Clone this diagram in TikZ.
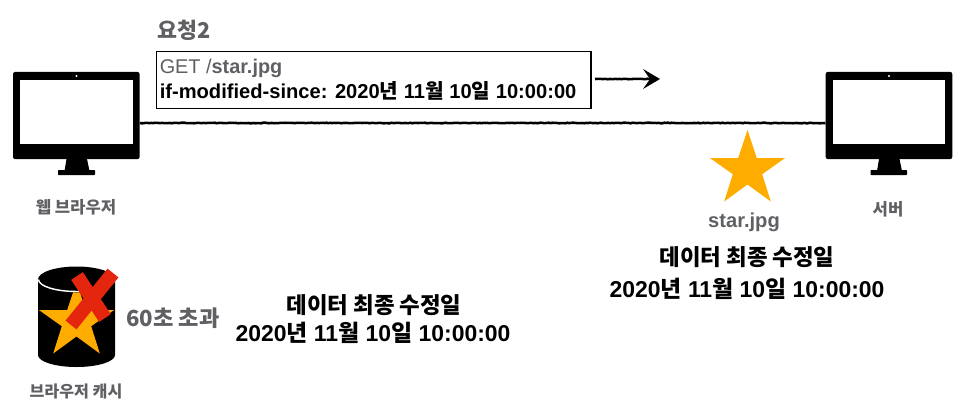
\documentclass[tikz,border=0pt]{standalone}
\usepackage{fontspec}
\setmainfont{Liberation Sans}
\newfontfamily\cjk{Noto Sans CJK KR}
\usetikzlibrary{arrows.meta,decorations.pathmorphing}
\definecolor{greytxt}{HTML}{5F6064}
\definecolor{staror}{HTML}{FFAC00}
\definecolor{redx}{HTML}{E5260F}
\tikzset{
  x=0.75pt,y=-0.75pt,
  screenbody/.style={draw=none,fill=black,rounded corners=1.5pt,minimum width=94.9pt,minimum height=65.3pt,inner sep=0pt},
  screenglass/.style={draw=none,fill=white,minimum width=84.7pt,minimum height=48pt,inner sep=0pt},
  label/.style={inner sep=0pt,text=greytxt,font=\bfseries},
  rough/.style={line width=1.9pt,black,decorate,decoration={random steps,segment length=1.4pt,amplitude=0.22pt}},
  xstroke/.style={redx,line width=10.5pt}
}
\newcommand{\bigstar}[3]{% cx, top y, colour
  \fill[#3] (#1,#2) -- ++(9.3,28) -- ++(28.3,0) -- ++(-22.9,16.2) -- ++(8.6,27.3) -- ++(-23.3,-17) -- ++(-23.3,17) -- ++(8.6,-27.3) -- ++(-22.9,-16.2) -- ++(28.3,0) -- cycle;}
\begin{document}
\begin{tikzpicture}
\useasboundingbox (0,0) rectangle (964,408);
% left monitor
\node[screenbody] (mleft) at (76.3,115.5) {};
\node[screenglass] (gleft) at (76.5,112) {};
\fill[white] (76.5,76) circle (0.9pt);
\fill (66.5,159) -- (87,159) -- (89.5,171) -- (64.5,171) -- cycle;
\fill[rounded corners=0.5pt] (58,170) rectangle (95,175);
\node[label,font=\fontsize{12.5}{14}\cjk\bfseries] (tleft) at (76,207) {웹 브라우저};
% right monitor
\node[screenbody] (mright) at (889,115.5) {};
\node[screenglass] (gright) at (889,112) {};
\fill[white] (889,76) circle (0.9pt);
\fill (879,159) -- (899.5,159) -- (902,171) -- (877,171) -- cycle;
\fill[rounded corners=0.5pt] (870.5,170) rectangle (907,175);
\node[label,font=\fontsize{12.5}{14}\cjk\bfseries] (tright) at (888,209) {서버};
% connection
\draw[rough] (mleft.east |- 0,123) -- (mright.west |- 0,123);
% request
\node[label,anchor=west,font=\fontsize{16.3}{19}\cjk\bfseries] (req) at (157,30) {요청2};
\node[draw=black,line width=1.1pt,fill=white,minimum width=326pt,minimum height=42.5pt,inner sep=0pt,anchor=north west] (box) at (155.5,51) {};
\node[anchor=base west,inner sep=0pt,text=greytxt,font=\fontsize{14.9}{17}\selectfont] (l1) at (159.5,73.5) {GET /\textbf{star.jpg}};
\node[anchor=base west,inner sep=0pt,font=\fontsize{15.1}{17}\bfseries] (l2) at (159.5,98) {if-modified-since: 2020{\cjk 년} 11{\cjk 월} 10{\cjk 일} 10:00:00};
\coordinate (a0) at (595,79);
\coordinate (a1) at (660,79);
\draw[rough] (a0) -- (650,79);
\fill (643,69) -- (a1) -- (643,89) -- (650,79) -- cycle;
% server star
\bigstar{747.5}{130}{staror}
\node[label,font=\fontsize{15.1}{17}\bfseries] (starname) at (744,222) {star.jpg};
\node[inner sep=0pt,font=\fontsize{16.8}{19}\cjk\bfseries] (d1) at (747,257) {데이터 최종 수정일};
\node[inner sep=0pt,font=\fontsize{17.2}{20}\bfseries] (d2) at (747,289) {2020{\cjk 년} 11{\cjk 월} 10{\cjk 일} 10:00:00};
% cache
\fill (38,280) -- (38,355) arc[start angle=180,end angle=0,x radius=38.5,y radius=12] -- (115,280) -- cycle;
\bigstar{76.5}{282}{staror}
\fill (76.5,279.5) ellipse [x radius=38.5,y radius=13];
\draw[white,line width=1.1pt] (38.5,279.5) arc[start angle=180,end angle=0,x radius=38,y radius=12];
\draw[xstroke] (77,276) -- (105,318);
\draw[xstroke] (113,273) -- (71,325);
\node[label,font=\fontsize{16.6}{19}\cjk\bfseries] (exp) at (173,318) {60초 초과};
\node[inner sep=0pt,font=\fontsize{16.8}{19}\cjk\bfseries] (c1) at (374,305) {데이터 최종 수정일};
\node[inner sep=0pt,font=\fontsize{17.2}{20}\bfseries] (c2) at (373,333) {2020{\cjk 년} 11{\cjk 월} 10{\cjk 일} 10:00:00};
\node[label,font=\fontsize{12.1}{14}\cjk\bfseries] (tcache) at (76,391) {브라우저 캐시};
\end{tikzpicture}
\end{document}
